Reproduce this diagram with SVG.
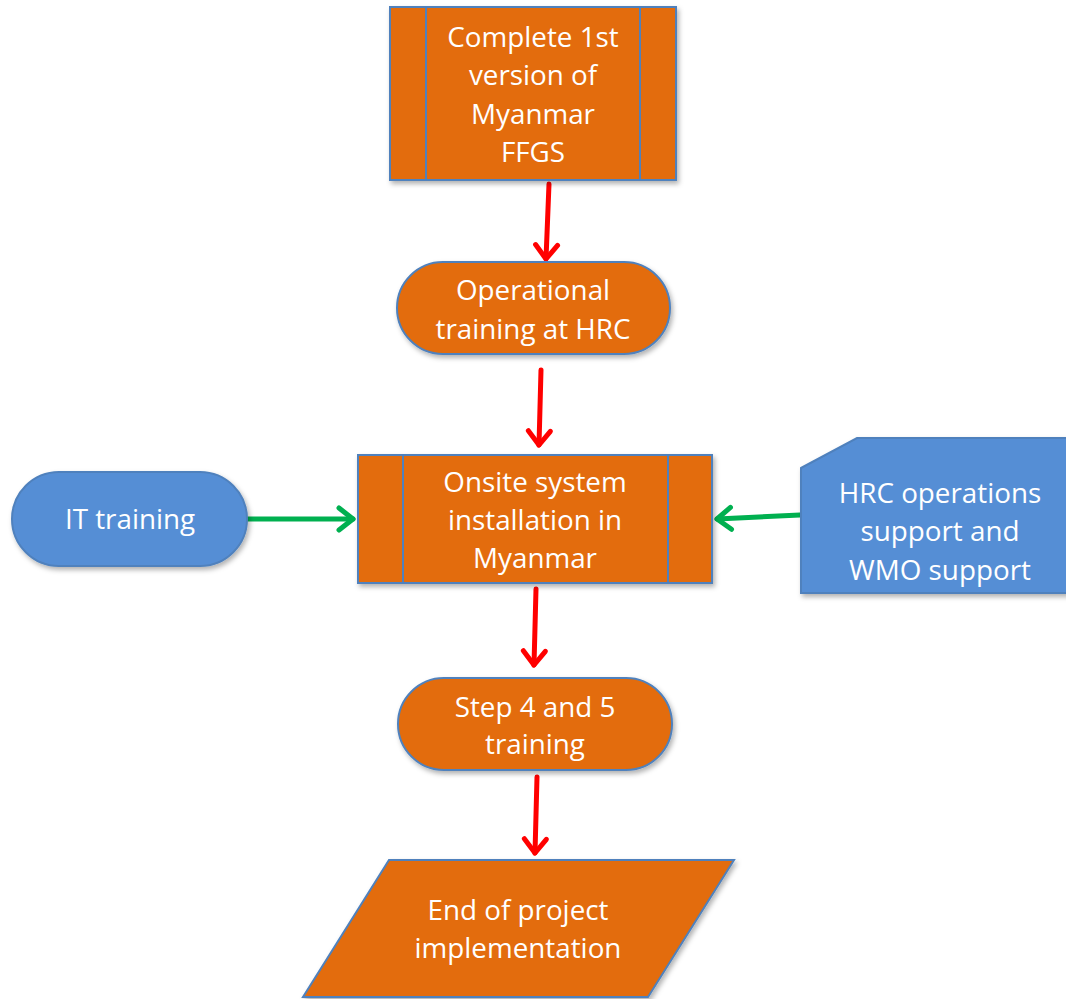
<svg xmlns="http://www.w3.org/2000/svg" width="1066" height="999" viewBox="0 0 1066 999">
<defs>
<style>
.o{fill:#E36C09;stroke:#4F81BD;stroke-width:2}
.b{fill:#558ED5;stroke:#4F81BD;stroke-width:2}
.ln{fill:none;stroke:#4F81BD;stroke-width:2}
.t{font-family:"Open Sans","Liberation Sans",sans-serif;font-size:27.8px;fill:#FFFFFF;text-anchor:middle}
.r{fill:none;stroke:#FF0000;stroke-width:5;stroke-linecap:round}
.g{fill:none;stroke:#00B050;stroke-width:5;stroke-linecap:round}
</style>
<filter id="sh" x="-10%" y="-10%" width="130%" height="130%">
<feDropShadow dx="2" dy="3" stdDeviation="2.5" flood-color="#000" flood-opacity="0.3"/>
</filter>
<marker id="ar" markerUnits="userSpaceOnUse" orient="auto" markerWidth="40" markerHeight="40" refX="20" refY="20" viewBox="0 0 40 40">
<path d="M6,9 L20,20 L6,31" fill="none" stroke="#FF0000" stroke-width="5" stroke-linecap="round" stroke-linejoin="round"/>
</marker>
<marker id="ag" markerUnits="userSpaceOnUse" orient="auto" markerWidth="40" markerHeight="40" refX="20" refY="20" viewBox="0 0 40 40">
<path d="M6,9 L20,20 L6,31" fill="none" stroke="#00B050" stroke-width="5" stroke-linecap="round" stroke-linejoin="round"/>
</marker>
</defs>
<rect width="1066" height="999" fill="#FFFFFF"/>
<g id="connectors">
<line class="r" x1="549" y1="184" x2="546" y2="259" marker-end="url(#ar)"/>
<line class="r" x1="541" y1="370" x2="539" y2="445" marker-end="url(#ar)"/>
<line class="r" x1="536" y1="589" x2="534" y2="665" marker-end="url(#ar)"/>
<line class="r" x1="537" y1="777" x2="535" y2="853" marker-end="url(#ar)"/>
<line class="g" x1="248" y1="519" x2="353" y2="519" marker-end="url(#ag)"/>
<line class="g" x1="800" y1="515" x2="717" y2="519" marker-end="url(#ag)"/>
</g>
<g id="node-ffgs">
<rect class="o" x="390" y="7" width="286" height="173" filter="url(#sh)"/>
<line class="ln" x1="426" y1="7" x2="426" y2="180"/>
<line class="ln" x1="640" y1="7" x2="640" y2="180"/>
<text class="t" x="533" y="47">Complete 1st</text>
<text class="t" x="533" y="85">version of</text>
<text class="t" x="533" y="124">Myanmar</text>
<text class="t" x="533" y="162">FFGS</text>
</g>
<g id="node-operational">
<rect class="o" x="397" y="262" width="273" height="92" rx="46" ry="46" filter="url(#sh)"/>
<text class="t" x="533" y="300">Operational</text>
<text class="t" x="533" y="339">training at HRC</text>
</g>
<g id="node-onsite">
<rect class="o" x="358" y="455" width="354" height="128" filter="url(#sh)"/>
<line class="ln" x1="403" y1="455" x2="403" y2="583"/>
<line class="ln" x1="668" y1="455" x2="668" y2="583"/>
<text class="t" x="535" y="492">Onsite system</text>
<text class="t" x="535" y="530">installation in</text>
<text class="t" x="535" y="568">Myanmar</text>
</g>
<g id="node-it">
<rect class="b" x="12" y="472" width="235" height="94" rx="47" ry="47" filter="url(#sh)"/>
<text class="t" x="130" y="529">IT training</text>
</g>
<g id="node-hrc">
<path class="b" d="M801,468 L857,438 L1068,438 L1068,593 L801,593 Z" filter="url(#sh)"/>
<text class="t" x="940" y="503">HRC operations</text>
<text class="t" x="940" y="541">support and</text>
<text class="t" x="940" y="580">WMO support</text>
</g>
<g id="node-step45">
<rect class="o" x="398" y="678" width="274" height="92" rx="46" ry="46" filter="url(#sh)"/>
<text class="t" x="535" y="717">Step 4 and 5</text>
<text class="t" x="535" y="754">training</text>
</g>
<g id="node-end">
<path class="o" d="M389,860 L734,860 L648,997 L303,997 Z" filter="url(#sh)"/>
<text class="t" x="518" y="920">End of project</text>
<text class="t" x="518" y="958">implementation</text>
</g>
</svg>
